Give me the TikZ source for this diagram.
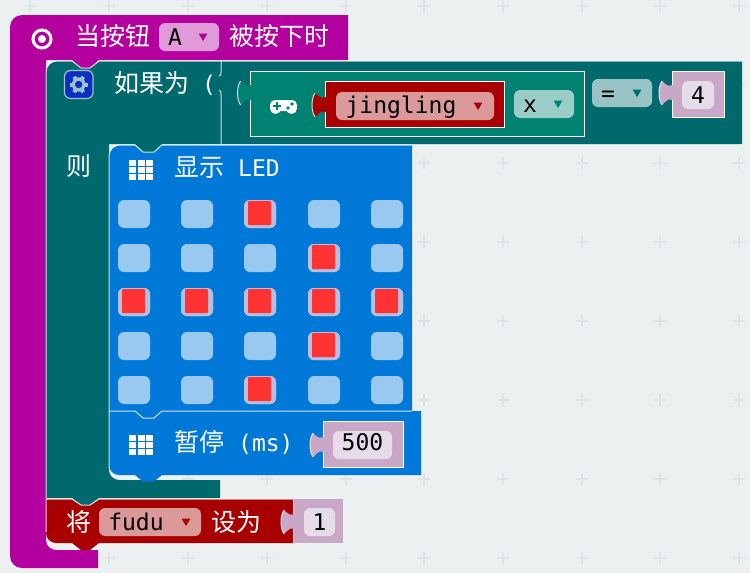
\documentclass[tikz,border=0pt]{standalone}
\usepackage{fontspec}
\newfontfamily\cjkfont{Noto Sans CJK SC}
\newfontfamily\monofont{DejaVu Sans Mono}
\newcommand{\mono}{\monofont\fontsize{23}{24}\selectfont}
\definecolor{pagebg}{HTML}{ECF0F1}
\definecolor{plusmark}{HTML}{DFE3E5}
\definecolor{hatcol}{HTML}{B4009E}
\definecolor{ifcol}{HTML}{00696E}
\definecolor{ledcol}{HTML}{0078D7}
\definecolor{varcol}{HTML}{A80000}
\definecolor{gamecol}{HTML}{008272}
\definecolor{valcol}{HTML}{C8A8C6}
\definecolor{valin}{HTML}{E6DCE9}
\definecolor{hatdrop}{HTML}{E19AD8}
\definecolor{vardrop}{HTML}{DC9999}
\definecolor{gamedrop}{HTML}{99CEC6}
\definecolor{ifdrop}{HTML}{99C3C5}
\definecolor{ledoff}{HTML}{99C9F0}
\definecolor{ledhalo}{HTML}{B9BEDD}
\definecolor{ledred}{HTML}{FF3333}
\definecolor{gearcol}{HTML}{9CC4C8}
\definecolor{gearbox}{HTML}{0B2FC4}
\tikzset{
  cjklabel/.style={anchor=base west,inner sep=0pt,text=white,font=\fontsize{25}{25}\selectfont\cjkfont},
  valuetext/.style={anchor=base,inner sep=0pt,text=black,font=\mono},
  rim/.style={draw=white,line width=1pt},
  softrim/.style={draw=white,draw opacity=.8,line width=1pt},
  dropbox/.style={rounded corners=6pt},
  puzzletab/.pic={
    \path[pic actions] (1,4) -- (0,4) .. controls (-3,6) and (-6,4) .. (-10,0)
      .. controls (-14,6) and (-14,18) .. (-10,24)
      .. controls (-6,20) and (-3,17) .. (0,19) -- (1,19) -- cycle;
    \draw[softrim] (-10,0) .. controls (-14,6) and (-14,18) .. (-10,24);
  },
  droparrow/.pic={
    \path[pic actions] (-4.5,-3.5) -- (4.5,-3.5) -- (0,4) -- cycle;
  },
  gridicon/.pic={
    \foreach \gx in {-12,-3.5,5}
      \foreach \gy in {-9.5,-2.5,4.5}
        \fill[white] (\gx,\gy) rectangle ++(7,5.5);
  }
}
\begin{document}
\begin{tikzpicture}[x=1pt,y=-1pt]
  \fill[pagebg] (0,0) rectangle (750,573);
  \useasboundingbox (0,0) rectangle (750,573);
  \foreach \px in {30,109,188,267,346,424,503,582,660,739}
    \foreach \py in {6,85,163,242,321,400,479,558}
      \draw[plusmark,line width=1.2pt] (\px-6,\py) -- (\px+6,\py) (\px,\py-6) -- (\px,\py+6);

  \fill[hatcol] (98,568) [rounded corners=12pt] -- (10,568) -- (10,15) [sharp corners] -- (348,15) -- (348,60)
    -- (99,60) -- (90,68) -- (81,68) -- (72,60) -- (46,60) -- (46,540) [rounded corners=10pt] -- (46,550) [sharp corners] -- (98,550) -- cycle;
  \fill[ifcol] (46,498) -- (46,72) [rounded corners=11pt] -- (46,61) [sharp corners] -- (72,61) -- (81,68) -- (90,68) -- (99,61)
    -- (742,61) -- (742,144) -- (162,144) -- (154,152) -- (143,152) -- (135,144) -- (109,144) -- (109,470) [rounded corners=10pt] -- (109,480) [sharp corners]
    -- (220,480) -- (220,498) -- (99,498) -- (90,505) -- (81,505) -- (72,498) -- cycle;
  \draw[softrim] (46,498) -- (46,72) [rounded corners=11pt] -- (46,61) [sharp corners] -- (72,61) -- (81,68) -- (90,68) -- (99,61) -- (742,61);
  \draw[softrim] (221,61) -- (221,72) .. controls (221,75) .. (219,76);
  \draw[softrim] (219,90) .. controls (221,91) .. (221,95) -- (221,145);

  \fill[ledcol] (109,412) -- (109,157) [rounded corners=11pt] -- (109,145) [sharp corners] -- (135,145) -- (143,152) -- (154,152) -- (162,145)
    -- (412,145) -- (412,412) -- cycle;
  \fill[ledcol] (109,411) -- (421,411) -- (421,475) -- (162,475) -- (154,481.5) -- (143,481.5) -- (135,475) -- (119,475) [rounded corners=10pt] -- (109,475) [sharp corners] -- (109,465) -- cycle;
  \draw[softrim] (109,468) -- (109,157) [rounded corners=11pt] -- (109,145) [sharp corners] -- (135,145) -- (143,152) -- (154,152) -- (162,145) -- (412,145);
  \draw[softrim] (109,411) -- (135,411) -- (143,418) -- (154,418) -- (162,411) -- (412,411);
  \foreach \col in {118,181,244,308,371}
    \foreach \row in {200,244,288,332,376}
      \fill[ledoff,rounded corners=6pt] (\col,\row) rectangle ++(32,28);
  \foreach \col/\row in {244/200,308/244,118/288,181/288,244/288,308/288,371/288,308/332,244/376} {
    \fill[ledhalo,rounded corners=6pt] (\col,\row) rectangle ++(32,28);
    \fill[ledred,rounded corners=1pt] (\col+4,\row+1) rectangle ++(23,24);
  }

  \fill[varcol] (46,499) -- (72,499) -- (81,505) -- (90,505) -- (99,499) -- (293,499) -- (293,543) -- (99,543) -- (90,550) -- (81,550) -- (72,543)
    -- (58,543) [rounded corners=10pt] -- (46,543) [sharp corners] -- (46,533) -- cycle;
  \draw[softrim] (46,532) -- (46,499) -- (72,499) -- (81,505) -- (90,505) -- (99,499) -- (293,499);

  \fill[valcol] (294,499) rectangle (343,543);
  \pic[fill=valcol] at (294,510) {puzzletab};
  \fill[valin,rounded corners=6pt] (304,508) rectangle (335,536);
  \node[valuetext] (fuduval) at (319.5,530) {1};

  \filldraw[valcol,rim] (323,421) rectangle (403,467);
  \pic[fill=valcol] at (323,433) {puzzletab};
  \fill[valin,rounded corners=6pt] (333,431) rectangle (392,459);
  \node[valuetext] (pauseval) at (362.5,450) {500};

  \filldraw[gamecol,rim] (250.5,71) rectangle (584,136);
  \pic[fill=gamecol] at (250.5,81) {puzzletab};
  \filldraw[varcol,rim] (325,81.5) rectangle (504,127.5);
  \pic[fill=varcol] at (325,93) {puzzletab};

  \filldraw[valcol,rim] (672,71) rectangle (724,117);
  \pic[fill=valcol] at (672,81) {puzzletab};
  \fill[valin,rounded corners=6pt] (682,81) rectangle (714,109);
  \node[valuetext] (compareval) at (698,103) {4};

  \fill[hatdrop,dropbox] (159,23) rectangle (219,51);
  \pic[fill=hatcol] at (203,37) {droparrow};
  \fill[vardrop,dropbox] (336,92) rectangle (494,120);
  \pic[fill=varcol] at (478,106) {droparrow};
  \fill[gamedrop,dropbox] (514,90) rectangle (574,118);
  \pic[fill=gamecol] at (558,104) {droparrow};
  \fill[ifdrop,dropbox] (592,79) rectangle (652,107);
  \pic[fill=ifcol] at (637,93) {droparrow};
  \fill[vardrop,dropbox] (99,508) rectangle (201,536);
  \pic[fill=varcol] at (186,522) {droparrow};

  \node[cjklabel] (whenlabel) at (75,45) {当按钮};
  \node[valuetext] (buttonval) at (175,45) {A};
  \node[cjklabel] (pressedlabel) at (229,45) {被按下时};
  \node[cjklabel] (iflabel) at (114,92) {如果为\hspace{13pt}{\mono(}};
  \node[cjklabel] (thenlabel) at (66,175) {则};
  \node[cjklabel] (ledlabel) at (174,176) {显示\hspace{14pt}{\mono LED}};
  \node[cjklabel] (pauselabel) at (174,451) {暂停\hspace{14pt}{\mono(ms)}};
  \node[cjklabel] (setlabel) at (66,531) {将};
  \node[valuetext] (fudulabel) at (136,530) {fudu};
  \node[cjklabel] (tolabel) at (211,531) {设为};
  \node[valuetext] (jinglinglabel) at (401,113) {jingling};
  \node[valuetext] (axislabel) at (530,112) {x};
  \node[valuetext] (equalslabel) at (608,101) {=};

  \draw[white,line width=3pt] (42,39) circle (9);
  \fill[white] (42,39) circle (4);

  \filldraw[fill=gearbox,draw=gearcol,line width=1.2pt,rounded corners=6pt] (64.5,70.5) rectangle (93,98.5);
  \foreach \ang in {0,60,...,300}
    \draw[gearcol,line width=4pt] (78.7,84.5) ++(\ang:5.5) -- ++(\ang:3.5);
  \draw[gearcol,line width=3.2pt] (78.7,84.5) circle (5.6);

  \pic at (141,169.5) {gridicon};
  \pic at (141,444.5) {gridicon};

  \fill[white,rounded corners=5pt] (270,100) rectangle (297,111);
  \fill[white] (275.5,108.5) circle (5.5) (291.5,108.5) circle (5.5);
  \draw[gamecol,line width=1.8pt] (273,106) -- (281,106) (277,102) -- (277,110);
  \fill[gamecol] (288,108) circle (1.8) (292,104) circle (1.8);
\end{tikzpicture}
\end{document}
